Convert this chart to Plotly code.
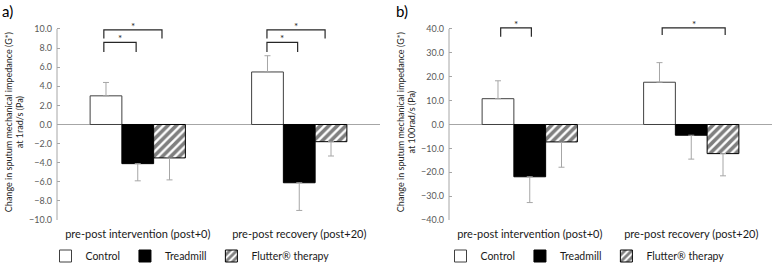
import plotly.graph_objects as go

categories = ["pre-post intervention (post+0)", "pre-post recovery (post+20)"]
series_names = ["Control", "Treadmill", "Flutter® therapy"]

# Panel a: change in G* at 1 rad/s (Pa)
a_control = [3.0, 5.5]
a_treadmill = [-4.1, -6.1]
a_flutter = [-3.5, -1.8]
a_control_err = [1.4, 1.7]
a_treadmill_err = [1.8, 2.9]
a_flutter_err = [2.3, 1.5]

# Panel b: change in G* at 100 rad/s (Pa)
b_control = [10.8, 17.7]
b_treadmill = [-21.9, -4.5]
b_flutter = [-7.3, -12.2]
b_control_err = [7.5, 8.2]
b_treadmill_err = [10.8, 10.0]
b_flutter_err = [10.6, 9.3]

a_ticks = [-10, -8, -6, -4, -2, 0, 2, 4, 6, 8, 10]
b_ticks = [-40, -30, -20, -10, 0, 10, 20, 30, 40]

# significance brackets: (x_start, x_end, top, leg_bottom)
a_brackets = [(-0.21, -0.01, 8.6, 7.6), (-0.21, 0.15, 9.9, 9.0),
              (0.80, 0.99, 8.6, 7.6), (0.80, 1.16, 9.9, 9.0)]
b_brackets = [(-0.18, 0.01, 40.5, 36.7), (0.82, 1.21, 40.5, 37.5)]

FONT = "Lato"
cat_x = list(range(len(categories)))

fig = go.Figure()


def one_sided(vals, errs):
    plus = [e if v >= 0 else 0 for v, e in zip(vals, errs)]
    minus = [e if v < 0 else 0 for v, e in zip(vals, errs)]
    return dict(type="data", symmetric=False, array=plus, arrayminus=minus,
                color="#a6a6a6", thickness=1, width=3)


styles = [
    dict(color="white", line=dict(color="#404040", width=1)),
    dict(color="black", line=dict(color="black", width=1)),
    dict(color="white", line=dict(color="black", width=1),
         pattern=dict(shape="/", fgcolor="black", bgcolor="white", size=6, solidity=0.6)),
]

panels = [
    ("x", "y", "legend", [a_control, a_treadmill, a_flutter],
     [a_control_err, a_treadmill_err, a_flutter_err]),
    ("x2", "y2", "legend2", [b_control, b_treadmill, b_flutter],
     [b_control_err, b_treadmill_err, b_flutter_err]),
]

for xa, ya, lg, vals, errs in panels:
    for name, v, e, st in zip(series_names, vals, errs, styles):
        fig.add_trace(go.Bar(x=cat_x, y=v, name=name, marker=st,
                             error_y=one_sided(v, e), xaxis=xa, yaxis=ya,
                             legend=lg, showlegend=True))

shapes = []
annotations = []
for xa, ya, brs in [("x", "y", a_brackets), ("x2", "y2", b_brackets)]:
    for x0, x1, top, bot in brs:
        shapes.append(dict(type="path", xref=xa, yref=ya,
                           path=f"M {x0},{bot} L {x0},{top} L {x1},{top} L {x1},{bot}",
                           line=dict(color="#262626", width=1.2)))
        annotations.append(dict(x=(x0 + x1) / 2, y=top, xref=xa, yref=ya, text="*",
                                showarrow=False, yanchor="bottom", yshift=-4,
                                font=dict(size=10, color="#262626", family=FONT)))

# left axis lines (spanning the tick range only)
shapes.append(dict(type="line", xref="x domain", yref="y", x0=0, x1=0, y0=-10, y1=10,
                   line=dict(color="#a6a6a6", width=1)))
shapes.append(dict(type="line", xref="x2 domain", yref="y2", x0=0, x1=0, y0=-40, y1=40,
                   line=dict(color="#a6a6a6", width=1)))

annotations.append(dict(x=0.0, y=1.0, xref="paper", yref="paper", text="a)", showarrow=False,
                        xanchor="left", yanchor="top", font=dict(size=15, color="black", family=FONT)))
annotations.append(dict(x=0.507, y=1.0, xref="paper", yref="paper", text="b)", showarrow=False,
                        xanchor="left", yanchor="top", font=dict(size=15, color="black", family=FONT)))

ydom = [1 - 220 / 263, 1 - 24.2 / 263]
xcommon = dict(range=[-0.5, 1.5], tickmode="array", tickvals=cat_x, ticktext=categories,
               showline=False, ticks="", zeroline=False, showgrid=False, automargin=False,
               ticklabelstandoff=6,
               tickfont=dict(size=11, color="#1a1a1a", family=FONT))
ycommon = dict(showgrid=False, showline=False, zeroline=True, zerolinecolor="#a6a6a6",
               zerolinewidth=1, ticks="inside", ticklen=3, tickcolor="#a6a6a6",
               automargin=False, ticklabelstandoff=4,
               tickformat=".1f", tickfont=dict(size=9, color="#595959", family=FONT))

fig.update_layout(
    width=778, height=263,
    margin=dict(l=0, r=0, t=0, b=0, autoexpand=False),
    paper_bgcolor="white", plot_bgcolor="white",
    barmode="group", bargap=0.41, bargroupgap=0,
    font=dict(family=FONT, color="#262626"),
    xaxis=dict(domain=[57 / 778, 380 / 778], anchor="y", **xcommon),
    xaxis2=dict(domain=[449 / 778, 772 / 778], anchor="y2", **xcommon),
    yaxis=dict(domain=ydom, anchor="x", range=[-10, 10.5], tickvals=a_ticks,
               title=dict(text="Change in sputum mechanical impedance (G*)<br>at 1rad/s (Pa)",
                          font=dict(size=9, color="#262626", family=FONT), standoff=3),
               **ycommon),
    yaxis2=dict(domain=ydom, anchor="x2", range=[-40, 42], tickvals=b_ticks,
                title=dict(text="Change in sputum mechanical impedance (G*)<br>at 100rad/s (Pa)",
                           font=dict(size=9, color="#262626", family=FONT), standoff=3),
                **ycommon),
    legend=dict(orientation="h", x=190 / 778, xanchor="center", y=1 - 256 / 263, yanchor="middle",
                font=dict(size=10.5, color="#1a1a1a", family=FONT), itemwidth=30,
                bgcolor="rgba(0,0,0,0)"),
    legend2=dict(orientation="h", x=585 / 778, xanchor="center", y=1 - 256 / 263, yanchor="middle",
                 font=dict(size=10.5, color="#1a1a1a", family=FONT), itemwidth=30,
                 bgcolor="rgba(0,0,0,0)"),
    shapes=shapes, annotations=annotations,
)

fig.write_html("out.html", config={"displayModeBar": False},
               post_script="document.body.style.margin='0';document.body.style.padding='0';")
